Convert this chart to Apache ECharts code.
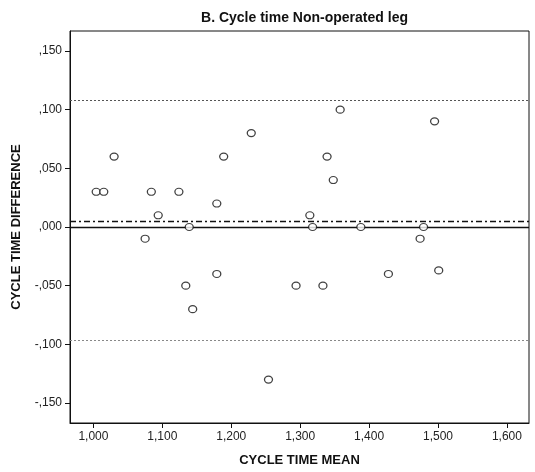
<!DOCTYPE html>
<html>
<head>
<meta charset="utf-8">
<script src="https://cdn.jsdelivr.net/npm/echarts@6/dist/echarts.min.js"></script>
<style>
  html, body { margin: 0; padding: 0; background: #fff; }
  #chart { width: 535px; height: 472px; }
</style>
</head>
<body>
<div id="chart"></div>
<script>
// cycle time mean (x) and difference (y)
const meanValues = [1.004, 1.015, 1.030, 1.075, 1.084, 1.094, 1.124, 1.134, 1.139, 1.144,
  1.179, 1.179, 1.189, 1.229, 1.254, 1.294, 1.314, 1.318, 1.333, 1.339,
  1.348, 1.358, 1.388, 1.428, 1.474, 1.479, 1.495, 1.501]
const diffValues = [0.030, 0.030, 0.060, -0.010, 0.030, 0.010, 0.030, -0.050, 0.000, -0.070,
  0.020, -0.040, 0.060, 0.080, -0.130, -0.050, 0.010, 0.000, -0.050, 0.060,
  0.040, 0.100, 0.000, -0.040, -0.010, 0.000, 0.090, -0.037]

const xTicks = [1.0, 1.1, 1.2, 1.3, 1.4, 1.5, 1.6]
const yTicks = [-0.15, -0.10, -0.05, 0, 0.05, 0.10, 0.15]

const meanDiff = 0.005
const upperLimit = 0.108
const lowerLimit = -0.0965

const labelFont = { fontFamily: 'Liberation Sans, Arial, sans-serif', fontSize: 12, color: '#222' }
const nameFont = { fontFamily: 'Liberation Sans, Arial, sans-serif', fontSize: 13, fontWeight: 'bold', color: '#111' }

function fmtY(v) {
  const s = Math.abs(v).toFixed(3).split('.')[1]
  return (v < -1e-9 ? '-' : '') + ',' + s
}

const chart = echarts.init(document.getElementById('chart'))
chart.setOption({
  animation: false,
  title: {
    text: 'B. Cycle time Non-operated leg',
    left: 299.5,
    textAlign: 'center',
    top: 6,
    textStyle: { fontFamily: 'Liberation Sans, Arial, sans-serif', fontSize: 14, fontWeight: 'bold', color: '#111' }
  },
  grid: {
    left: 70,
    right: 6,
    top: 31,
    bottom: 49,
    show: true,
    borderColor: '#111',
    borderWidth: 1
  },
  xAxis: {
    type: 'value',
    min: 0.966,
    max: 1.632,
    name: 'CYCLE TIME MEAN',
    nameLocation: 'middle',
    nameGap: 31,
    nameTextStyle: nameFont,
    axisLine: { show: true, onZero: false, lineStyle: { color: '#111', width: 1 } },
    axisTick: { show: true, customValues: xTicks, length: 5, lineStyle: { color: '#111' } },
    axisLabel: {
      customValues: xTicks,
      margin: 8,
      ...labelFont,
      formatter: v => v.toFixed(3).replace('.', ',')
    },
    splitLine: { show: false }
  },
  yAxis: {
    type: 'value',
    min: -0.167,
    max: 0.167,
    name: 'CYCLE TIME DIFFERENCE',
    nameLocation: 'middle',
    nameGap: 47,
    nameTextStyle: nameFont,
    axisLine: { show: true, onZero: false, lineStyle: { color: '#111', width: 1 } },
    axisTick: { show: true, customValues: yTicks, length: 5, lineStyle: { color: '#111' } },
    axisLabel: {
      customValues: yTicks,
      margin: 8,
      ...labelFont,
      formatter: fmtY
    },
    splitLine: { show: false }
  },
  series: [
    {
      type: 'scatter',
      data: meanValues.map((m, i) => [m, diffValues[i]]),
      symbol: 'circle',
      symbolSize: [8, 7],
      itemStyle: { color: '#fff', borderColor: '#111', borderWidth: 1.2 },
      z: 5,
      markLine: {
        silent: true,
        symbol: 'none',
        precision: 4,
        label: { show: false },
        data: [
          { yAxis: upperLimit, lineStyle: { type: [2, 2], color: '#555', width: 1 } },
          { yAxis: meanDiff, lineStyle: { type: [6, 3, 2, 3], color: '#111', width: 1.3 } },
          { yAxis: 0, lineStyle: { type: 'solid', color: '#111', width: 1.3 } },
          { yAxis: lowerLimit, lineStyle: { type: [2, 2], color: '#888', width: 1 } }
        ]
      }
    }
  ]
})
</script>
</body>
</html>
